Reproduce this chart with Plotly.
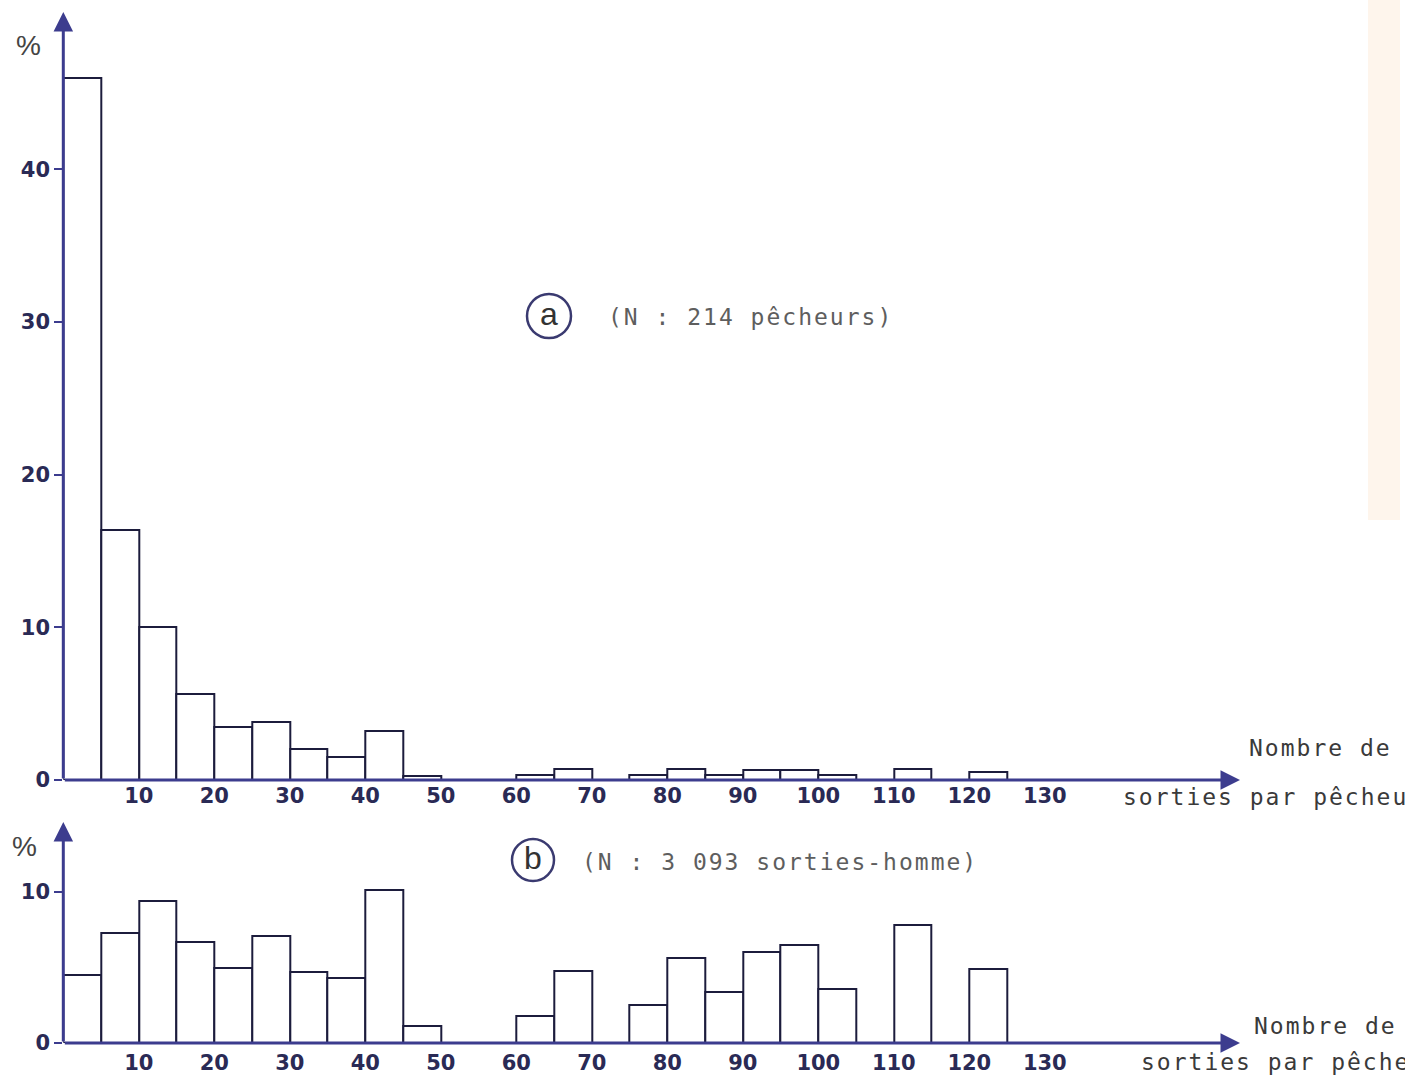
import plotly.graph_objects as go

W, H = 1405, 1077

# ---- data ----
bin_left = list(range(0, 125, 5))          # 0,5,...,120
bin_width = 5
pct_pecheurs = [46.0, 16.4, 10.0, 5.6, 3.5, 3.8, 2.0, 1.5, 3.2, 0.25,
                0, 0, 0.3, 0.7, 0, 0.35, 0.7, 0.3, 0.65, 0.65,
                0.35, 0, 0.7, 0, 0.55]
pct_sorties = [4.5, 7.3, 9.4, 6.7, 5.0, 7.1, 4.7, 4.3, 10.1, 1.1,
               0, 0, 1.8, 4.8, 0, 2.5, 5.6, 3.4, 6.0, 6.5,
               3.6, 0, 7.8, 0, 4.9]
x_tick_vals = [10, 20, 30, 40, 50, 60, 70, 80, 90, 100, 110, 120, 130]
x_tick_text = [str(v) for v in x_tick_vals]
y_ticks_a = [0, 10, 20, 30, 40]
y_ticks_b = [0, 10]

# ---- geometry ----
X0 = 63.3           # pixel of x=0
PX_PER_UNIT = 7.55
X_MAX = (W - X0) / PX_PER_UNIT
BASE_A, PPP_A, TOP_A = 780, 15.27, 12
BASE_B, PPP_B, TOP_B = 1043, 15.1, 822

def py(p):
    return 1 - p / H

def px(p):
    return p / W

AXIS = "#3c3c8e"
EDGE = "#1c1c3c"
LABEL = "#2a2a55"
TXT = "#5e5e5e"

centers = [b + bin_width / 2 for b in bin_left]

fig = go.Figure()
fig.add_trace(go.Bar(x=centers, y=pct_pecheurs, width=bin_width,
                     marker=dict(color="white", line=dict(color=EDGE, width=2)),
                     xaxis="x", yaxis="y", showlegend=False))
fig.add_trace(go.Bar(x=centers, y=pct_sorties, width=bin_width,
                     marker=dict(color="white", line=dict(color=EDGE, width=2)),
                     xaxis="x2", yaxis="y2", showlegend=False))

tickfont = dict(family="DejaVu Sans", size=21, color=LABEL, weight="bold")
common_x = dict(range=[0, X_MAX], domain=[X0 / W, 1], showgrid=False, zeroline=False,
                showline=False, tickmode="array", tickvals=x_tick_vals, ticktext=x_tick_text,
                ticks="", tickfont=tickfont, fixedrange=True)
fig.update_layout(
    width=W, height=H, margin=dict(l=0, r=0, t=0, b=0, autoexpand=False),
    paper_bgcolor="white", plot_bgcolor="rgba(0,0,0,0)",
    bargap=0,
    xaxis=dict(anchor="y", ticklabelstandoff=1, **common_x),
    xaxis2=dict(anchor="y2", ticklabelstandoff=5, **common_x),
    yaxis=dict(domain=[py(BASE_A), py(TOP_A)], range=[0, (BASE_A - TOP_A) / PPP_A],
               showgrid=False, zeroline=False, showline=False, tickmode="array",
               tickvals=y_ticks_a, ticks="outside", ticklen=8, tickwidth=2, tickcolor=AXIS,
               tickfont=tickfont, anchor="x"),
    yaxis2=dict(domain=[py(BASE_B), py(TOP_B)], range=[0, (BASE_B - TOP_B) / PPP_B],
                showgrid=False, zeroline=False, showline=False, tickmode="array",
                tickvals=y_ticks_b, ticks="outside", ticklen=8, tickwidth=2, tickcolor=AXIS,
                tickfont=tickfont, anchor="x2"),
)

ann = []
# axis arrows
x_end = (1240 - X0) / PX_PER_UNIT
for xr, yr, ytop in (("x", "y", (BASE_A - TOP_A) / PPP_A), ("x2", "y2", (BASE_B - TOP_B) / PPP_B)):
    ann.append(dict(x=x_end, y=0, ax=0, ay=0, xref=xr, yref=yr, axref=xr, ayref=yr,
                    showarrow=True, arrowhead=2, arrowsize=1.3, arrowwidth=3, arrowcolor=AXIS, text=""))
    ann.append(dict(x=0, y=ytop, ax=0, ay=0, xref=xr, yref=yr, axref=xr, ayref=yr,
                    showarrow=True, arrowhead=2, arrowsize=1.3, arrowwidth=3, arrowcolor=AXIS, text=""))

mono = dict(family="DejaVu Sans Mono", size=23, color=TXT)
mono_dark = dict(family="DejaVu Sans Mono", size=23, color="#3a3a3a")
def t(x, y, s, font=mono, xanchor="left"):
    ann.append(dict(x=px(x), y=py(y), xref="paper", yref="paper", text=s, showarrow=False,
                    xanchor=xanchor, yanchor="middle", font=font))

pct_font = dict(family="Liberation Sans", size=28, color="#444")
t(28, 46, "%", pct_font, "center")
t(24, 846, "%", pct_font, "center")

sp = '<span style="letter-spacing:2px">{}</span>'
t(606, 317, sp.format("(N : 214 pêcheurs)"))
t(580, 862, sp.format("(N : 3 093 sorties-homme)"))
t(1247, 748, sp.format("Nombre de"), mono_dark)
t(1121, 797, sp.format("sorties par pêcheur"), mono_dark)
t(1252, 1026, sp.format("Nombre de"), mono_dark)
t(1139, 1062, sp.format("sorties par pêcheur"), mono_dark)

circ_font = dict(family="Liberation Sans", size=32, color="#333")
t(549, 314, "a", circ_font, "center")
t(533, 858, "b", circ_font, "center")
fig.update_layout(annotations=ann)

shapes = []
for cx, cy, r in ((549, 316, 22), (533, 860, 21)):
    shapes.append(dict(type="circle", xref="paper", yref="paper",
                       x0=px(cx - r), x1=px(cx + r), y0=py(cy + r), y1=py(cy - r),
                       line=dict(color="#3a3a70", width=2.5), layer="above"))
# faint scan tint on the right edge
shapes.append(dict(type="rect", xref="paper", yref="paper", x0=px(1368), x1=px(1400), y0=py(520), y1=1,
                   fillcolor="rgba(250,205,160,0.2)", line=dict(width=0), layer="below"))
fig.update_layout(shapes=shapes)

fig.write_html("out.html")
